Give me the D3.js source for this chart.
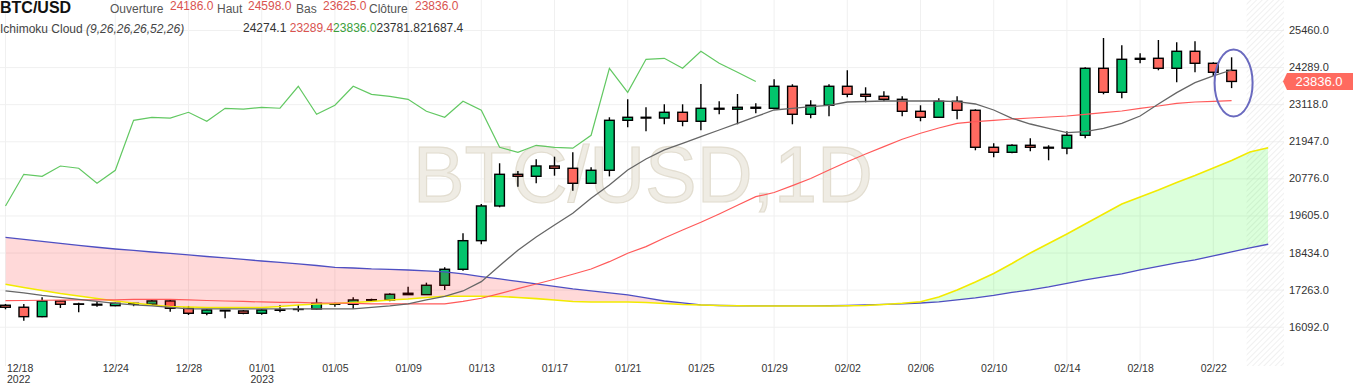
<!DOCTYPE html>
<html>
<head>
<meta charset="utf-8">
<script src="https://cdn.jsdelivr.net/npm/d3@7"></script>
<style>
  body { margin: 0; background: #fff; }
  svg { display: block; font-family: "Liberation Sans", Arial, sans-serif; }
</style>
</head>
<body>
<svg id="chart" width="1353" height="386"></svg>
<script>
// BTC/USD daily candles, 2022-12-18 .. 2023-02-23
const opens = [
  16769, 16706, 16409, 16905, 16812, 16800, 16756, 16805, 16800, 16905,
  16674, 16516, 16611, 16589, 16516, 16625, 16645, 16652, 16810, 16800,
  16930, 16936, 17148, 17104, 17400, 17905, 18808, 19904, 20904, 20841,
  21166, 21094, 20620, 21031, 22609, 22704, 22680, 22862, 22578, 22988,
  22960, 23020, 22988, 23683, 22799, 23083, 23683, 23430, 23367, 23272,
  22893, 22704, 23209, 22925, 21757, 21599, 21820, 21757, 21730, 22136,
  24251, 23493, 24535, 24567, 24251, 24788, 24409, 24186
];
const highs = [
  16810, 16810, 17021, 16936, 16851, 16895, 16851, 16851, 16936, 16958,
  16747, 16642, 16620, 16611, 16642, 16769, 16778, 16977, 16851, 17021,
  16977, 17148, 17356, 17482, 17969, 19042, 19967, 21252, 21009, 21378,
  21460, 21599, 21125, 22704, 23272, 23020, 23114, 23114, 23755, 23209,
  23440, 23146, 23904, 23746, 23241, 23746, 24188, 23651, 23525, 23367,
  23083, 23304, 23367, 22957, 21883, 21852, 22041, 21820, 22262, 24282,
  25207, 24977, 24724, 25144, 25072, 25103, 24440, 24598
];
const lows = [
  16642, 16283, 16390, 16684, 16548, 16725, 16740, 16740, 16770, 16567,
  16463, 16453, 16358, 16485, 16470, 16548, 16567, 16640, 16725, 16661,
  16882, 16895, 17094, 17094, 17252, 17860, 18694, 19862, 20513, 20620,
  20860, 20384, 20600, 20838, 22388, 22262, 22483, 22420, 22294, 22799,
  22483, 22830, 22957, 22483, 22672, 22736, 23335, 23177, 23209, 22736,
  22578, 22690, 22641, 21662, 21441, 21567, 21631, 21346, 21536, 22041,
  23430, 23304, 24409, 24188, 23809, 24125, 24008, 23625
];
const closes = [
  16706, 16409, 16905, 16800, 16800, 16775, 16832, 16830, 16905, 16674,
  16516, 16620, 16590, 16516, 16620, 16610, 16640, 16832, 16800, 16936,
  16945, 17116, 17104, 17400, 17905, 18808, 19904, 20904, 20841, 21166,
  21094, 20620, 21031, 22609, 22704, 22680, 22862, 22578, 22988, 22960,
  23020, 22990, 23683, 22799, 23083, 23683, 23430, 23367, 23272, 22893,
  22704, 23209, 22925, 21757, 21599, 21820, 21757, 21730, 22136, 24251,
  23493, 24535, 24565, 24251, 24788, 24409, 24125, 23836
];

// ichimoku lines
const tenkan = [
  17220, 17157, 17078, 17015, 16952, 16889, 16826, 16778, 16747, 16699,
  16652, 16652, 16652, 16652, 16652, 16652, 16652, 16652, 16652, 16652,
  16699, 16747, 16810, 16936, 17047, 17220, 17514, 18019, 18505, 18925,
  19304, 19673, 20147, 20567, 21040, 21387, 21672, 21883, 22091, 22303,
  22514, 22723, 22934, 22988, 23039, 23083, 23187, 23203, 23218, 23218,
  23218, 23218, 23196, 23124, 22934, 22672, 22492, 22357, 22218, 22249,
  22357, 22514, 22745, 23124, 23481, 23796, 24008, 24197
];
const kijun = [
  16914, 16920, 16927, 16930, 16936, 16936, 16942, 16952, 16952, 16952,
  16936, 16920, 16904, 16889, 16873, 16857, 16857, 16841, 16841, 16826,
  16810, 16810, 16810, 16810, 16810, 16889, 16990, 17138, 17293, 17441,
  17590, 17747, 17915, 18145, 18410, 18619, 18893, 19146, 19389, 19651,
  19926, 20197, 20330, 20545, 20772, 21040, 21302, 21545, 21776, 22009,
  22199, 22366, 22514, 22565, 22609, 22650, 22682, 22713, 22745, 22799,
  22849, 22903, 22988, 23061, 23146, 23187, 23209, 23228
];
// cloud spans run two days past the last candle
const senkouA = [
  17432, 17331, 17236, 17141, 17062, 16983, 16904, 16841, 16778, 16731,
  16715, 16699, 16693, 16693, 16699, 16731, 16778, 16810, 16826, 16857,
  16889, 16936, 16968, 17015, 17053, 17053, 17053, 17047, 17015, 16977,
  16936, 16889, 16873, 16873, 16873, 16857, 16826, 16795, 16778, 16762,
  16753, 16747, 16747, 16747, 16747, 16747, 16753, 16762, 16795, 16832,
  16882, 17031, 17252, 17504, 17773, 18088, 18420, 18720, 19020, 19335,
  19651, 19967, 20188, 20409, 20646, 20867, 21103, 21340, 21608, 21744
];
const senkouB = [
  18915, 18846, 18783, 18720, 18657, 18600, 18546, 18499, 18451, 18404,
  18357, 18309, 18262, 18215, 18167, 18120, 18073, 18025, 17968, 17946,
  17915, 17899, 17883, 17852, 17820, 17757, 17672, 17599, 17520, 17441,
  17362, 17283, 17220, 17157, 17094, 16999, 16904, 16841, 16778, 16762,
  16753, 16747, 16747, 16747, 16747, 16753, 16762, 16778, 16795, 16810,
  16841, 16873, 16936, 16999, 17078, 17173, 17252, 17346, 17463, 17567,
  17662, 17757, 17883, 17994, 18104, 18199, 18325, 18451, 18578, 18695
];
const lagShift = 26; // chikou = close plotted 26 bars back

const tickDates = ["2022-12-18", "2022-12-24", "2022-12-28", "2023-01-01", "2023-01-05",
  "2023-01-09", "2023-01-13", "2023-01-17", "2023-01-21", "2023-01-25", "2023-01-29",
  "2023-02-02", "2023-02-06", "2023-02-10", "2023-02-14", "2023-02-18", "2023-02-22"];
const tickYears = { "2022-12-18": "2022", "2023-01-01": "2023" };
const priceTicks = [16092, 17263, 18434, 19605, 20776, 21947, 23118, 24289, 25460];

const svg = d3.select("#chart");
const plotW = 1284, plotH = 366;
const green = "#02c46c", red = "#ff6a60";

const days = d3.utcDay.range(new Date(Date.UTC(2022, 11, 18)), new Date(Date.UTC(2023, 1, 26)));
const parse = d3.utcParse("%Y-%m-%d");
const keyFmt = d3.utcFormat("%Y-%m-%d");
const x = d3.scaleUtc().domain([days[0], days[67]]).range([5.5, 1231.6]);
const y = d3.scaleLinear().domain([priceTicks[0], priceTicks[priceTicks.length - 1]]).range([326.7, 30]);
const fmt = d3.format(".1f");

const defs = svg.append("defs");
defs.append("clipPath").attr("id", "plotClip")
  .append("rect").attr("width", plotW).attr("height", plotH);
const hatch = defs.append("pattern").attr("id", "hatch")
  .attr("width", 4).attr("height", 4)
  .attr("patternUnits", "userSpaceOnUse")
  .attr("patternTransform", "rotate(45)");
hatch.append("line").attr("x1", 0).attr("y1", 0).attr("x2", 0).attr("y2", 4)
  .attr("stroke", "#e6e6e6").attr("stroke-width", 1.2);

const cloudIdx = d3.range(senkouA.length);
defs.append("clipPath").attr("id", "aboveA").append("path")
  .attr("d", d3.area().x(i => x(days[i])).y0(0).y1(i => y(senkouA[i]))(cloudIdx));
defs.append("clipPath").attr("id", "belowA").append("path")
  .attr("d", d3.area().x(i => x(days[i])).y0(plotH).y1(i => y(senkouA[i]))(cloudIdx));

const plot = svg.append("g").attr("clip-path", "url(#plotClip)");

// grid
plot.append("g").selectAll("line").data(tickDates).join("line")
  .attr("x1", d => x(parse(d))).attr("x2", d => x(parse(d)))
  .attr("y1", 0).attr("y2", plotH)
  .attr("stroke", "#f0f0f0");
plot.append("g").selectAll("line").data(priceTicks).join("line")
  .attr("x1", 0).attr("x2", plotW)
  .attr("y1", d => y(d) + 0.5).attr("y2", d => y(d) + 0.5)
  .attr("stroke", "#f0f0f0");

// future area hatch
const hatchX = x(days[67]) + 15;
plot.append("rect").attr("x", hatchX).attr("y", 0)
  .attr("width", plotW - hatchX).attr("height", plotH)
  .attr("fill", "url(#hatch)");

// watermark
plot.append("text")
  .attr("x", plotW / 2 + 1).attr("y", 202)
  .attr("text-anchor", "middle")
  .attr("font-size", 79)
  .attr("textLength", 460).attr("lengthAdjust", "spacingAndGlyphs")
  .attr("fill", "#efece4").attr("stroke", "#e2ddd0").attr("stroke-width", 1.2)
  .text("BTC/USD,1D");

// candles
const bars = d3.range(closes.length);
const bw = 9.6;
plot.append("g").selectAll("line").data(bars).join("line")
  .attr("x1", i => x(days[i])).attr("x2", i => x(days[i]))
  .attr("y1", i => y(highs[i])).attr("y2", i => y(lows[i]))
  .attr("stroke", "#000").attr("stroke-width", 1.4);
plot.append("g").selectAll("rect").data(bars).join("rect")
  .attr("x", i => x(days[i]) - bw / 2)
  .attr("y", i => y(Math.max(opens[i], closes[i])))
  .attr("width", bw)
  .attr("height", i => Math.max(Math.abs(y(opens[i]) - y(closes[i])), 0.3))
  .attr("fill", i => closes[i] >= opens[i] ? green : red)
  .attr("stroke", "#000").attr("stroke-width", 1.4);

// cloud
const band = d3.area().x(i => x(days[i])).y0(i => y(senkouA[i])).y1(i => y(senkouB[i]));
plot.append("path").attr("d", band(cloudIdx)).attr("clip-path", "url(#aboveA)")
  .attr("fill", "rgba(255,0,0,0.15)");
plot.append("path").attr("d", band(cloudIdx)).attr("clip-path", "url(#belowA)")
  .attr("fill", "rgba(0,255,0,0.14)");

const line = arr => d3.line().x((d, i) => x(days[i])).y(d => y(d))(arr);
plot.append("path").attr("d", line(senkouB)).attr("fill", "none")
  .attr("stroke", "#4f4fc2").attr("stroke-width", 1.3);
plot.append("path").attr("d", line(senkouA)).attr("fill", "none")
  .attr("stroke", "#f2ea00").attr("stroke-width", 1.6);
plot.append("path").attr("d", line(kijun)).attr("fill", "none")
  .attr("stroke", "#ff5a5a").attr("stroke-width", 1.2);
plot.append("path").attr("d", line(tenkan)).attr("fill", "none")
  .attr("stroke", "#666").attr("stroke-width", 1.3);
plot.append("path").attr("d", line(closes.slice(lagShift))).attr("fill", "none")
  .attr("stroke", "#62c862").attr("stroke-width", 1.2);

// annotation round the last bar
const last = closes.length - 1;
plot.append("ellipse")
  .attr("cx", x(days[last]) + 2).attr("cy", y(closes[last]) + 1.5)
  .attr("rx", 19).attr("ry", 33.5)
  .attr("fill", "none").attr("stroke", "#6a6abf").attr("stroke-width", 2);

// price axis
const yAxis = svg.append("g").attr("transform", `translate(${plotW},0)`)
  .call(d3.axisRight(y).tickValues(priceTicks).tickFormat(fmt).tickSize(0).tickPadding(5));
yAxis.select(".domain").remove();
yAxis.selectAll("text").attr("font-size", 11).attr("fill", "#333")
  .attr("font-family", "'Liberation Sans', Arial, sans-serif");

// time axis: date on first row, year underneath where the year changes
const xAxis = svg.append("g").attr("transform", `translate(0,${plotH})`)
  .call(d3.axisBottom(x).tickValues(tickDates.map(parse)).tickFormat(d3.utcFormat("%m/%d")).tickSize(0));
xAxis.select(".domain").remove();
xAxis.selectAll("text").each(function (d, i) {
  const t = d3.select(this);
  const label = t.text();
  const yr = tickYears[keyFmt(d)];
  const tx = i === 0 ? 1 : 0;
  t.text(null).attr("dy", null).attr("y", 6)
    .attr("font-size", 10.5).attr("fill", "#333")
    .attr("font-family", "'Liberation Sans', Arial, sans-serif")
    .attr("text-anchor", i === 0 ? "start" : "middle");
  t.append("tspan").attr("x", tx).text(label);
  if (yr) t.append("tspan").attr("x", tx).attr("dy", 11).text(yr);
});

// last price tag
const py = y(closes[last]);
svg.append("path")
  .attr("d", `M${plotW - 1},${py} L${plotW + 3},${py - 8.5} H1353 V${py + 8.5} H${plotW + 3} Z`)
  .attr("fill", "#ff6a5f");
svg.append("text").attr("x", 1319).attr("y", py + 4.5)
  .attr("text-anchor", "middle").attr("font-size", 13).attr("fill", "#fff")
  .text(fmt(closes[last]));

// legend
const head = svg.append("g").attr("font-size", 12);
head.append("text").attr("x", 0).attr("y", 13).attr("font-size", 16).attr("font-weight", "bold")
  .attr("fill", "#111").text("BTC/USD");
const ohlcLabels = [["Ouverture", 110, opens[last], 170], ["Haut", 217, highs[last], 248],
  ["Bas", 296, lows[last], 323], ["Clôture", 369, closes[last], 415]];
ohlcLabels.forEach(([lab, lx, v, vx]) => {
  head.append("text").attr("x", lx).attr("y", 12.7).attr("fill", "#555").text(lab);
  head.append("text").attr("x", vx).attr("y", 10.2).attr("fill", "#d9534f").text(fmt(v));
});
const ichi = head.append("text").attr("x", 0).attr("y", 33).attr("fill", "#444");
ichi.append("tspan").text("Ichimoku Cloud ");
ichi.append("tspan").attr("font-style", "italic").text("(9,26,26,26,52,26)");
const legendVals = [[24274.1, "#333", " "], [23289.4, "#d9534f", ""], [23836.0, "#3a9e3a", ""],
  [23781.8, "#333", ""], [21687.4, "#333", ""]];
const vals = head.append("text").attr("x", 243).attr("y", 32).attr("xml:space", "preserve");
legendVals.forEach(([v, c, sep]) => {
  vals.append("tspan").attr("fill", c).text(fmt(v) + sep);
});
</script>
</body>
</html>
